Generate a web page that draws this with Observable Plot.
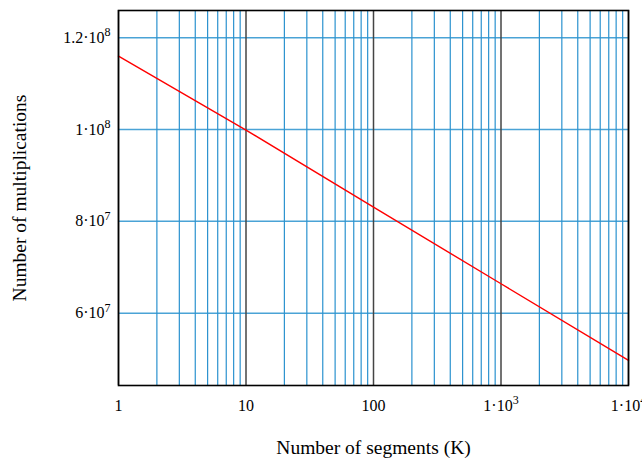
<!DOCTYPE html>
<html>
<head>
<meta charset="utf-8">
<script src="https://cdn.jsdelivr.net/npm/d3@7"></script>
<script src="https://cdn.jsdelivr.net/npm/@observablehq/plot@0.6"></script>
<style>
  html, body { margin: 0; padding: 0; background: #fff; }
  #chart svg, #chart svg text { font-family: "Liberation Serif", "DejaVu Serif", "Times New Roman", serif !important; }
</style>
</head>
<body>
<div id="chart"></div>
<script>
// Data
const segments = [1, 10, 100, 1000, 10000];
const multiplications = [116.0e6, 99.9e6, 83.1e6, 66.4e6, 49.7e6];

// Axis ticks
const xMajorTicks = [1, 10, 100, 1000, 10000];
const xMajorLabels = ["1", "10", "100", "1·10^3", "1·10^4"];
const xMinorTicks = [2,3,4,5,6,7,8,9, 20,30,40,50,60,70,80,90, 200,300,400,500,600,700,800,900, 2000,3000,4000,5000,6000,7000,8000,9000];
const yTicks = [60e6, 80e6, 100e6, 120e6];
const yLabels = ["6·10^7", "8·10^7", "1·10^8", "1.2·10^8"];

const data = segments.map((k, i) => ({k, m: multiplications[i]}));

const chart = Plot.plot({
  width: 642,
  height: 460,
  marginLeft: 118,
  marginRight: 14,
  marginTop: 10,
  marginBottom: 75,
  style: {fontFamily: '"Liberation Serif", "DejaVu Serif", serif', fontSize: "16px", color: "#000", background: "#fff"},
  x: {type: "log", domain: [1, 10000]},
  y: {domain: [44.23e6, 125.95e6]},
  marks: [
    Plot.gridY(yTicks, {stroke: "#4aa3d6", strokeOpacity: 1, strokeWidth: 1.5}),
    Plot.ruleX(xMinorTicks, {stroke: "#2b92cf", strokeWidth: 1.2}),
    Plot.ruleX(xMajorTicks, {stroke: "#444", strokeWidth: 1.5}),
    Plot.line(data, {x: "k", y: "m", stroke: "#ff0000", strokeWidth: 1.4}),
    Plot.frame({stroke: "#000", strokeWidth: 1.6}),
    Plot.axisX(xMajorTicks, {
      tickSize: 0, tickPadding: 14, fontSize: 16,
      tickFormat: (d) => xMajorLabels[xMajorTicks.indexOf(d)],
      label: "Number of segments (K)", labelAnchor: "center", labelArrow: "none", labelOffset: 68
    }),
    Plot.axisY(yTicks, {
      tickSize: 0, tickPadding: 8, fontSize: 16,
      tickFormat: (d) => yLabels[yTicks.indexOf(d)],
      label: "Number of multiplications", labelAnchor: "center", labelArrow: "none", labelOffset: 106
    })
  ]
});

const FONT = '"Liberation Serif", "DejaVu Serif", serif';
// Render exponents as superscripts
d3.select(chart).selectAll("text").attr("font-family", FONT).each(function() {
  const t = d3.select(this);
  const tspans = t.selectAll("tspan");
  const nodes = tspans.empty() ? [this] : tspans.nodes();
  nodes.forEach(node => {
    const s = node.textContent;
    const idx = s.indexOf("^");
    if (idx >= 0) {
      const base = s.slice(0, idx);
      const exp = s.slice(idx + 1);
      const sel = d3.select(node);
      sel.text(null);
      sel.append("tspan").text(base);
      sel.append("tspan").attr("dy", "-0.55em").attr("font-size", "12px").text(exp);
    }
  });
});
d3.select(chart).selectAll("[aria-label='x-axis label'] text, [aria-label='y-axis label'] text").attr("font-size", 19.5);

document.getElementById("chart").appendChild(chart);
</script>
</body>
</html>
